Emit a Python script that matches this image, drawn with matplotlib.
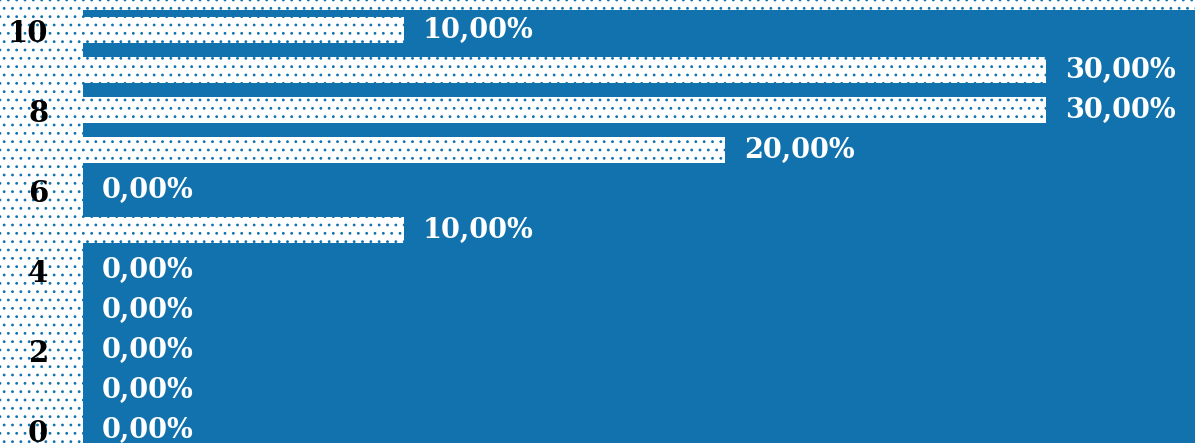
import matplotlib.pyplot as plt

positions = [0, 1, 2, 3, 4, 5, 6, 7, 8, 9, 10]
shares = [0, 0, 0, 0, 0, 10, 0, 20, 30, 30, 10]
ticks = [0, 2, 4, 6, 8, 10]

blue = '#1172ae'
plt.rcParams['hatch.color'] = blue
plt.rcParams['hatch.linewidth'] = 0.8

fig = plt.figure(figsize=(11.95, 4.43), dpi=100)
fig.patch.set_facecolor('white')
fig.patch.set_hatch('..')
fig.patch.set_edgecolor(blue)
fig.patch.set_linewidth(0)

ax = fig.add_axes([83 / 1195, 0, 1 - 83 / 1195, 1 - 10 / 443])
ax.set_facecolor(blue)

ax.barh(positions, shares, height=0.65, color='white', edgecolor=blue,
        linewidth=0, hatch='..')

for p, v in zip(positions, shares):
    ax.annotate(f'{v:.2f}%'.replace('.', ','), (v, p), xytext=(13.5, 0),
                textcoords='offset points', va='center', ha='left',
                color='white', fontsize=19.5, fontweight='bold', family='DejaVu Serif')

ax.set_xlim(0, 34.64)
ax.set_ylim(-0.325, 10.5)
ax.set_yticks(ticks)
ax.set_yticklabels([str(t) for t in ticks], fontsize=21, fontweight='bold',
                   family='DejaVu Serif', color='black')
ax.tick_params(axis='y', length=0, pad=25)
ax.set_xticks([])
for s in ax.spines.values():
    s.set_visible(False)

fig.savefig('out.png', dpi=100, facecolor=fig.get_facecolor())
